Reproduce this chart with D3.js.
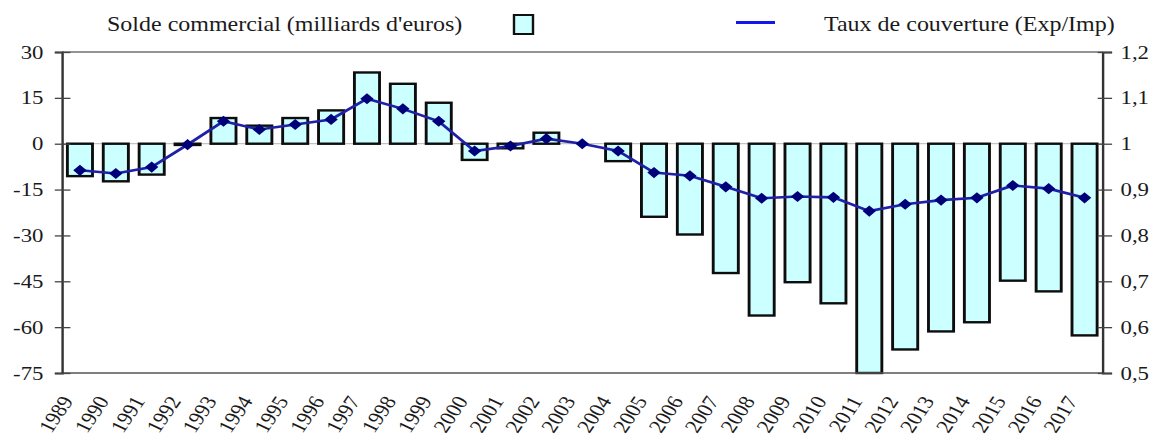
<!DOCTYPE html>
<html>
<head>
<meta charset="utf-8">
<script src="https://cdn.jsdelivr.net/npm/d3@7"></script>
<style>
  html, body { margin: 0; padding: 0; background: #fff; }
  svg { display: block; }
  text { font-family: "Liberation Serif", "Times New Roman", serif; fill: #1a1a1a; }
</style>
</head>
<body>
<div id="chart"></div>
<script>
// ---- data ----
const years = ["1989","1990","1991","1992","1993","1994","1995","1996","1997","1998",
  "1999","2000","2001","2002","2003","2004","2005","2006","2007","2008",
  "2009","2010","2011","2012","2013","2014","2015","2016","2017"];
const solde = [-10.6,-12.3,-10.1,-0.4,8.4,5.9,8.4,10.9,23.3,19.6,
  13.4,-5.3,-1.5,3.6,0,-5.7,-23.9,-29.7,-42.3,-56.2,
  -45.3,-52.2,-75,-67.3,-61.4,-58.4,-44.8,-48.3,-62.7];
const taux = [0.942,0.935,0.949,0.998,1.049,1.031,1.042,1.053,1.098,1.076,
  1.049,0.984,0.995,1.011,1.0,0.984,0.937,0.930,0.906,0.881,
  0.885,0.883,0.853,0.868,0.877,0.882,0.909,0.902,0.882];
const leftTicks = [30,15,0,-15,-30,-45,-60,-75];
const leftTickLabels = ["30","15","0","-15","-30","-45","-60","-75"];
const rightTicks = [1.2,1.1,1.0,0.9,0.8,0.7,0.6,0.5];
const rightTickLabels = ["1,2","1,1","1","0,9","0,8","0,7","0,6","0,5"];
const legendBar = "Solde commercial (milliards d'euros)";
const legendLine = "Taux de couverture (Exp/Imp)";

// ---- layout (the source picture is stretched horizontally) ----
const sx = 1.2;
const Wpx = 1153, H = 438;
const W = Wpx / sx;
const pLeft = 62 / sx, pRight = 1102.5 / sx, pTop = 52, pBottom = 373;
const serif = '"Liberation Serif", "Times New Roman", serif';

const svg = d3.select("#chart").append("svg")
  .attr("width", Wpx).attr("height", H)
  .attr("viewBox", `0 0 ${W} ${H}`)
  .attr("preserveAspectRatio", "none");

const x = d3.scaleBand().domain(years).range([pLeft, pRight])
  .paddingInner(0.3).paddingOuter(0.15);
const yL = d3.scaleLinear().domain([-75, 30]).range([pBottom, pTop]);
const yR = d3.scaleLinear().domain([0.5, 1.2]).range([pBottom, pTop]);

// frame lines
svg.append("line").attr("x1", pLeft).attr("x2", pRight).attr("y1", pTop).attr("y2", pTop)
  .attr("stroke", "#707070").attr("stroke-width", 1.6);
svg.append("line").attr("x1", pLeft).attr("x2", pRight).attr("y1", yL(0)).attr("y2", yL(0))
  .attr("stroke", "#c4c4c4").attr("stroke-width", 1.2);

// bars
svg.append("g").selectAll("rect").data(years).join("rect")
  .attr("x", d => x(d))
  .attr("width", x.bandwidth())
  .attr("y", (d, i) => yL(Math.max(0, solde[i])))
  .attr("height", (d, i) => Math.abs(yL(solde[i]) - yL(0)))
  .attr("fill", "#ccffff")
  .attr("stroke", "#0d0d0d")
  .attr("stroke-width", 2.4);

svg.append("line").attr("x1", pLeft).attr("x2", pRight).attr("y1", pBottom).attr("y2", pBottom)
  .attr("stroke", "#555").attr("stroke-width", 1.6);

// line series
const cx = d => x(d) + x.bandwidth() / 2;
const line = d3.line().x((d, i) => cx(years[i])).y(d => yR(d));
svg.append("path").datum(taux)
  .attr("d", line)
  .attr("fill", "none")
  .attr("stroke", "#1f1fa8")
  .attr("stroke-width", 2.6);
const diamond = d3.symbol().type(d3.symbolSquare).size(62);
svg.append("g").selectAll("path").data(taux).join("path")
  .attr("d", diamond)
  .attr("transform", (d, i) => `translate(${cx(years[i])},${yR(d)}) rotate(45)`)
  .attr("fill", "#00007a");

// left axis
const gL = svg.append("g").attr("transform", `translate(${pLeft},0)`)
  .call(d3.axisLeft(yL).tickValues(leftTicks)
    .tickFormat((d, i) => leftTickLabels[i]).tickSizeOuter(0).tickSize(6));
gL.attr("font-family", null);
gL.select(".domain").attr("stroke", "#333").attr("stroke-width", 2);
gL.selectAll(".tick line").attr("x1", 7).attr("x2", -6).attr("stroke", "#444").attr("stroke-width", 1.3);
gL.selectAll(".tick text").attr("x", -15.5)
  .style("font-size", "19px").style("font-family", serif).attr("fill", "#1a1a1a");

// right axis
const gR = svg.append("g").attr("transform", `translate(${pRight},0)`)
  .call(d3.axisRight(yR).tickValues(rightTicks)
    .tickFormat((d, i) => rightTickLabels[i]).tickSizeOuter(0).tickSize(8));
gR.attr("font-family", null);
gR.select(".domain").attr("stroke", "#333").attr("stroke-width", 2);
gR.selectAll(".tick line").attr("x1", -4).attr("x2", 8).attr("stroke", "#444").attr("stroke-width", 1.3);
gR.selectAll(".tick text").attr("x", 15)
  .style("font-size", "19px").style("font-family", serif).attr("fill", "#1a1a1a");

// x axis labels
const gX = svg.append("g").attr("transform", `translate(0,${pBottom})`)
  .call(d3.axisBottom(x).tickSize(0).tickPadding(0));
gX.attr("font-family", null);
gX.select(".domain").remove();
gX.selectAll(".tick text")
  .attr("text-anchor", "end")
  .attr("x", 0).attr("y", 0).attr("dy", 0)
  .attr("transform", "translate(-5,28) rotate(-60)")
  .style("font-size", "19px").style("font-family", serif).attr("fill", "#1a1a1a");

// legend
svg.append("text").attr("x", 107 / sx).attr("y", 31).text(legendBar)
  .style("font-size", "20px").style("font-family", serif);
svg.append("rect").attr("x", 514 / sx).attr("y", 15).attr("width", 19 / sx).attr("height", 19)
  .attr("fill", "#ccffff").attr("stroke", "#111").attr("stroke-width", 2);
svg.append("line").attr("x1", 736 / sx).attr("x2", 775 / sx).attr("y1", 22.5).attr("y2", 22.5)
  .attr("stroke", "#1515ee").attr("stroke-width", 3.2);
svg.append("text").attr("x", 824 / sx).attr("y", 31).text(legendLine)
  .style("font-size", "20px").style("font-family", serif);
</script>
</body>
</html>
